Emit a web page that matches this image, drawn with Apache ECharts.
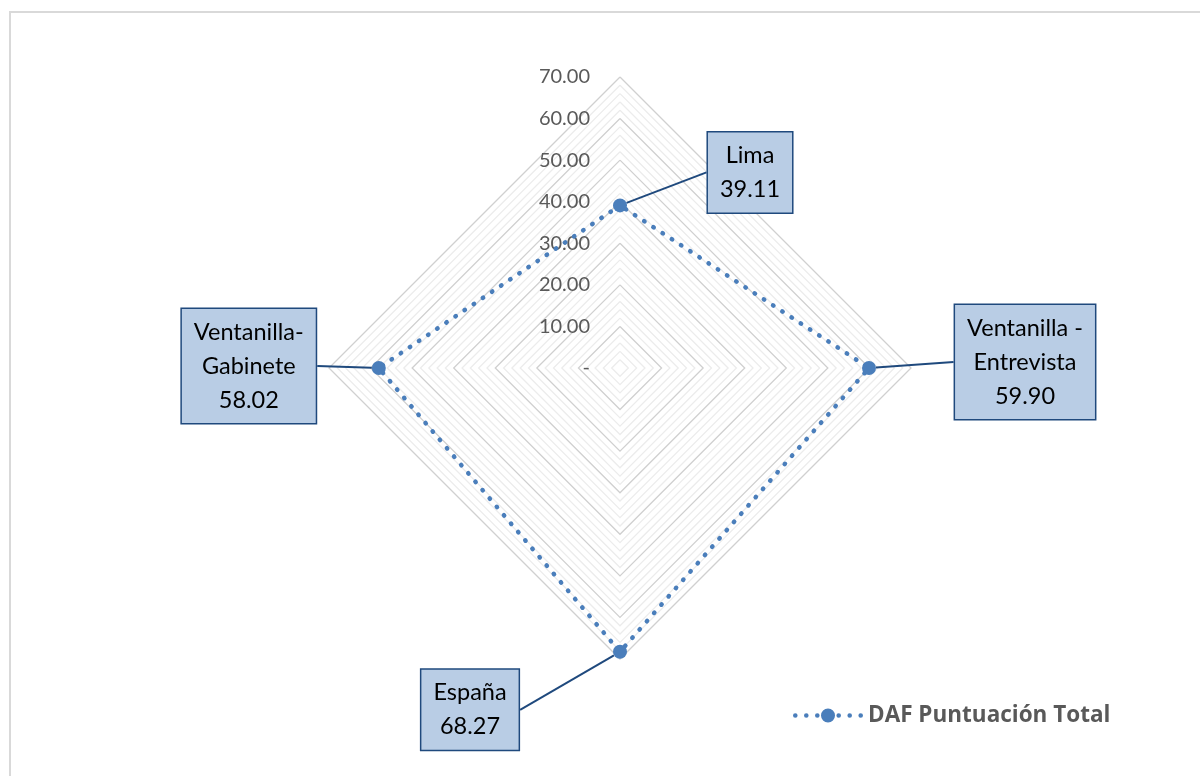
<!DOCTYPE html>
<html>
<head>
<meta charset="utf-8">
<script src="https://cdn.jsdelivr.net/npm/echarts@6/dist/echarts.min.js"></script>
<style>
  html, body { margin: 0; padding: 0; width: 1200px; height: 776px; overflow: hidden; background: #fff; }
  #frame { position: absolute; left: 9px; top: 11px; width: 1220px; height: 800px; border: 2px solid #d9d9d9; box-sizing: border-box; }
  #chart { position: absolute; left: 0; top: 0; width: 1200px; height: 776px; }
</style>
</head>
<body>
<div id="frame"></div>
<div id="chart"></div>
<script>
// ---- data ----
const categories = ['Lima', 'Ventanilla-\nGabinete', 'España', 'Ventanilla -\nEntrevista'];
const values = [39.11, 58.02, 68.27, 59.90];
const seriesName = 'DAF Puntuación Total';
const axisMax = 70;
const labelStep = 10;

// ---- callout offsets (label box centre relative to its point) ----
const calloutOffsets = [[130, -33], [-130, -2], [-150, 58], [156, -6]];

const chart = echarts.init(document.getElementById('chart'));
const FONT = 'Lato';
const minorCol = '#ececec', majorCol = '#d0d0d0';

chart.setOption({
  animation: false,
  legend: {
    left: 788, top: 699,
    itemWidth: 70, itemHeight: 14, itemGap: 7,
    icon: 'path://M0,7a2.3,2.3 0 1,0 4.6,0a2.3,2.3 0 1,0 -4.6,0M11,7a2.3,2.3 0 1,0 4.6,0a2.3,2.3 0 1,0 -4.6,0M22,7a2.3,2.3 0 1,0 4.6,0a2.3,2.3 0 1,0 -4.6,0M28,7a7,7 0 1,0 14,0a7,7 0 1,0 -14,0M43.4,7a2.3,2.3 0 1,0 4.6,0a2.3,2.3 0 1,0 -4.6,0M54.4,7a2.3,2.3 0 1,0 4.6,0a2.3,2.3 0 1,0 -4.6,0M65.4,7a2.3,2.3 0 1,0 4.6,0a2.3,2.3 0 1,0 -4.6,0',
    textStyle: { fontFamily: 'Open Sans', fontWeight: 'bold', fontSize: 22.5, color: '#595959' },
    data: [seriesName]
  },
  radar: {
    center: [620, 368],
    radius: 291,
    startAngle: 90,
    shape: 'polygon',
    splitNumber: 35,
    indicator: categories.map((c, i) => ({
      name: c, min: 0, max: axisMax,
      axisLabel: { show: i === 0 }
    })),
    axisName: { show: false },
    axisLine: { show: false },
    axisTick: { show: false },
    splitArea: { show: false },
    splitLine: { lineStyle: { color: [majorCol, minorCol, minorCol, minorCol, minorCol], width: 1.3 } },
    axisLabel: {
      show: false,
      showMinLabel: true, showMaxLabel: true,
      fontFamily: FONT, fontSize: 20, color: '#595959', margin: 30,
      formatter: v => {
        const r = v / labelStep;
        if (Math.abs(r - Math.round(r)) > 1e-6) return '';
        return Math.abs(v) < 1e-9 ? '-' : v.toFixed(2);
      }
    }
  },
  series: [{
    type: 'radar',
    name: seriesName,
    symbol: 'circle',
    symbolSize: 14,
    itemStyle: { color: '#4a7ebb' },
    lineStyle: { color: '#4a7ebb', width: 4.5, type: [0.5, 10.5], cap: 'round' },
    label: {
      show: true,
      position: 'inside',
      formatter: p => categories[p.dimensionIndex] + '\n' + values[p.dimensionIndex].toFixed(2),
      fontFamily: FONT, fontSize: 23.5, lineHeight: 34, color: '#000',
      align: 'center',
      backgroundColor: '#b9cde5',
      borderColor: '#1f497d', borderWidth: 1.5,
      padding: [6, 12]
    },
    labelLine: { show: true, lineStyle: { color: '#1f497d', width: 2 } },
    labelLayout: function (params) {
      const idx = categories.findIndex(c => params.text.indexOf(c) === 0);
      const off = calloutOffsets[idx >= 0 ? idx : 0];
      return { dx: off[0], dy: off[1] };
    },
    data: [{ name: seriesName, value: values }]
  }]
});
</script>
</body>
</html>
